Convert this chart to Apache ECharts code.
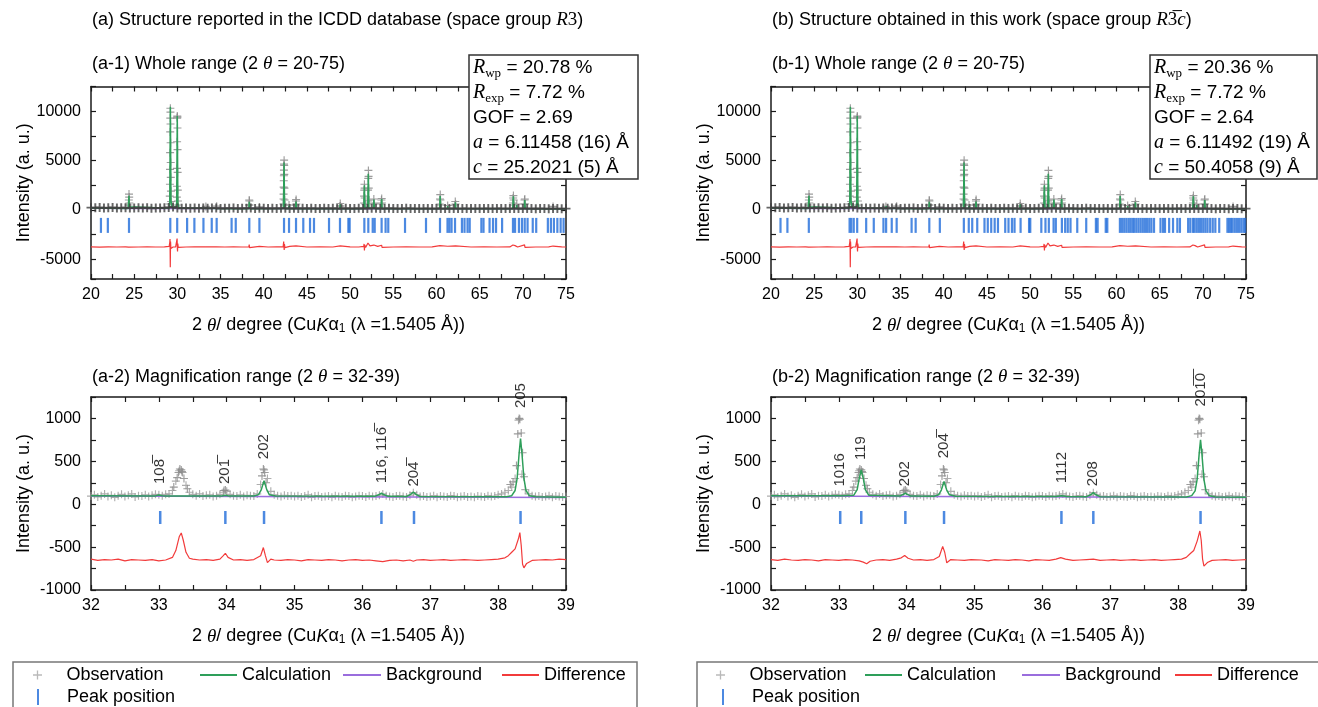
<!DOCTYPE html>
<html>
<head>
<meta charset="utf-8">
<title>Rietveld refinement</title>
<script src="https://cdn.jsdelivr.net/npm/echarts@6/dist/echarts.min.js"></script>
<style>
  html, body { margin: 0; padding: 0; background: #fff; }
  #chart { width: 1318px; height: 707px; }
</style>
</head>
<body>
<div id="chart"></div>
<script>
// ---- whole range (2θ = 20-75) ----
// observed baseline, one point every 0.5 deg from 20
const obsWholeStart = 20;
const obsWholeStep = 0.5;
const obsWholeBase = [
  230, 210, 250, 200, 220, 240, 190, 210, 230, 200,
  180, 210, 190, 220, 170, 200, 190, 210, 250, 300,
  190, 170, 200, 160, 180, 170, 190, 160, 180, 200,
  150, 170, 160, 180, 150, 170, 160, 180, 150, 170,
  160, 150, 170, 140, 160, 170, 150, 160, 140, 170,
  150, 160, 140, 150, 170, 140, 160, 150, 140, 160,
  150, 140, 160, 150, 140, 170, 160, 150, 140, 160,
  140, 150, 130, 160, 140, 150, 130, 150, 140, 130,
  150, 140, 130, 150, 140, 130, 150, 140, 130, 140,
  130, 150, 140, 130, 140, 150, 130, 140, 130, 150,
  140, 130, 140, 120, 140, 130, 120, 140, 130, 120,
  130
];
// observed points on the peaks
const obsWholePeaks = [
  [24.36, 500], [24.38, 1000], [24.40, 1600], [24.42, 1300], [24.44, 700],
  [29.10, 600], [29.12, 1400], [29.14, 2600], [29.15, 4100], [29.16, 5800], [29.17, 7900], [29.18, 9300],
  [29.19, 10300], [29.20, 9900], [29.21, 8700], [29.22, 6800], [29.23, 4800], [29.24, 3300], [29.26, 1900], [29.28, 850],
  [29.92, 500], [29.94, 1300], [29.95, 2400], [29.96, 4200], [29.97, 6900], [29.98, 9300], [29.99, 9500],
  [30.00, 9400], [30.01, 8300], [30.02, 6100], [30.03, 3800], [30.05, 2000], [30.07, 900],
  [33.30, 350], [34.55, 380], [38.30, 500], [38.32, 1000], [38.34, 900], [38.36, 500], [39.50, 300],
  [42.27, 600], [42.29, 1100], [42.30, 1600], [42.31, 2300], [42.32, 2950], [42.33, 3460], [42.34, 4030],
  [42.35, 4640], [42.36, 5040], [42.37, 4500], [42.38, 3600], [42.40, 2200], [42.42, 1000], [42.45, 500],
  [42.93, 500], [43.70, 500], [43.73, 900], [43.75, 1050], [43.78, 600],
  [48.83, 400], [48.86, 650], [48.89, 400],
  [51.60, 700], [51.62, 1400], [51.64, 2000], [51.66, 2600], [51.68, 2200], [51.70, 1200], [51.73, 600],
  [52.06, 900], [52.08, 2000], [52.10, 3200], [52.12, 4000], [52.14, 3400], [52.16, 2200], [52.19, 1000],
  [52.72, 600], [52.75, 1100], [52.78, 700], [53.60, 600], [53.63, 1000], [53.66, 1150], [53.69, 700],
  [60.38, 600], [60.41, 1100], [60.44, 1550], [60.47, 1000], [60.50, 500], [61.30, 450],
  [62.15, 500], [62.18, 850], [62.22, 600],
  [68.85, 700], [68.88, 1200], [68.91, 1450], [68.94, 1000], [68.97, 500], [69.30, 600],
  [70.17, 600], [70.20, 1000], [70.23, 1100], [70.26, 600], [73.50, 350]
];
const calcWholeA = [
  [20, 180], [24.30, 150], [24.36, 320], [24.40, 1420], [24.44, 320], [24.50, 150],
  [29.05, 160], [29.12, 900], [29.19, 10450], [29.26, 900], [29.40, 260], [29.60, 220], [29.85, 300],
  [29.92, 700], [29.99, 9500], [30.06, 700], [30.20, 180],
  [34.48, 130], [34.55, 300], [34.62, 130], [36.22, 125], [36.28, 200], [36.34, 125],
  [36.70, 125], [36.76, 210], [36.82, 125], [38.27, 125], [38.33, 820], [38.39, 125],
  [39.45, 120], [39.50, 260], [39.55, 120], [42.28, 130], [42.35, 4800], [42.42, 130],
  [42.88, 120], [42.93, 420], [42.98, 120], [43.68, 120], [43.74, 850], [43.80, 120],
  [48.80, 115], [48.86, 560], [48.92, 115],
  [51.58, 120], [51.65, 2500], [51.72, 250], [52.04, 250], [52.11, 3650], [52.18, 200],
  [52.68, 150], [52.75, 1050], [52.82, 150], [53.58, 120], [53.65, 1100], [53.72, 120],
  [60.36, 110], [60.43, 1400], [60.50, 110], [61.25, 110], [61.30, 380], [61.35, 110],
  [62.13, 110], [62.19, 780], [62.25, 110],
  [68.83, 110], [68.90, 1380], [68.97, 200], [69.25, 160], [69.30, 480], [69.35, 120],
  [70.15, 110], [70.22, 1000], [70.29, 110], [73.45, 100], [73.50, 300], [73.55, 100], [75, 100]
];
// the R-3c model also has the 119 reflection near 33.3
const calcWholeBExtra = [[33.27, 130], [33.33, 380], [33.39, 130]];
const bgWhole = [[20, 170], [25, 150], [30, 140], [40, 130], [50, 125], [60, 120], [75, 115]];
const diffWhole = [
  [20, -3750], [21, -3770], [22, -3740], [23, -3760], [24, -3750], [24.36, -3780], [24.40, -3600], [24.44, -3820], [24.5, -3750],
  [25.5, -3760], [26.5, -3740], [27.5, -3760], [28.5, -3750], [29.05, -3700], [29.12, -3300], [29.15, -2950], [29.18, -5800],
  [29.21, -3200], [29.25, -3900], [29.32, -3700], [29.5, -3760], [29.8, -3740],
  [29.94, -3600], [29.97, -2900], [30.00, -3950], [30.02, -4200], [30.05, -3400], [30.1, -3800], [30.3, -3750],
  [31, -3760], [32, -3740], [33.25, -3750], [33.3, -3550], [33.36, -3760], [34.5, -3740], [34.55, -3560], [34.6, -3800], [34.7, -3750],
  [35.5, -3760], [36.5, -3740], [37.5, -3760], [38.28, -3750], [38.32, -3520], [38.36, -3820], [38.45, -3750],
  [39.5, -3700], [40.5, -3760], [41.5, -3740], [42.25, -3750], [42.31, -3200], [42.35, -3100], [42.37, -4050], [42.40, -3450],
  [42.45, -3820], [42.55, -3750], [43.0, -3700], [43.74, -3650], [43.8, -3770], [45, -3760], [46.5, -3740], [48, -3760],
  [48.86, -3650], [48.9, -3770], [50, -3750], [51, -3760],
  [51.58, -3700], [51.62, -3450], [51.66, -4100], [51.70, -3550], [51.8, -3800], [52.0, -3700], [52.07, -3350], [52.12, -3300],
  [52.16, -3500], [52.22, -3380], [52.3, -3650], [52.5, -3720], [52.75, -3560], [52.8, -3760], [53.2, -3700], [53.65, -3580],
  [53.7, -3800], [53.8, -3750], [55, -3760], [56.5, -3740], [58, -3760], [59.5, -3750], [60.4, -3620], [60.45, -3820],
  [60.55, -3740], [61.3, -3680], [61.4, -3760], [62.2, -3640], [62.25, -3790], [62.4, -3750],
  [64, -3760], [65.5, -3740], [67, -3760], [68.5, -3750], [68.85, -3560], [68.9, -3520], [68.95, -3680], [69.1, -3620],
  [69.3, -3650], [69.4, -3760], [70.2, -3540], [70.25, -3800], [70.35, -3750],
  [71.5, -3760], [73, -3740], [73.5, -3660], [73.55, -3770], [74.5, -3750], [75, -3760]
];
// reflection positions (2θ)
const peaksR3 = [
  21.15, 21.95, 24.40, 29.18, 29.98, 31.13, 31.97, 33.02, 33.98, 34.55, 36.28, 36.76, 38.33, 39.50,
  42.35, 42.93, 43.74, 44.58, 45.36, 45.82, 47.56, 48.83, 49.80, 49.95, 51.65, 52.11, 52.62, 52.85,
  53.65, 54.11, 54.42, 56.36, 58.79, 60.41, 61.28, 61.50, 61.75, 62.15, 62.95, 63.25, 63.60, 63.85,
  65.20, 65.45, 66.15, 66.55, 66.90, 67.60, 68.86, 69.10, 69.55, 69.90, 70.22, 70.55, 71.15, 71.55,
  72.90, 73.25, 73.60, 74.00, 74.38, 74.72
];
const peaksR3c = [
  21.10, 21.90, 24.38, 29.10, 29.30, 29.58, 29.98, 31.02, 31.90, 33.02, 33.33, 33.98, 34.55, 36.28,
  36.75, 38.33, 39.55, 42.33, 42.90, 43.30, 43.88, 44.72, 45.10, 45.50, 45.90, 46.28, 47.12, 47.50,
  47.90, 48.20, 48.90, 49.88, 50.02, 51.30, 51.78, 52.17, 52.72, 52.98, 53.68, 54.06, 54.36, 54.68,
  55.46, 56.50, 57.62, 57.82, 58.76, 58.94, 60.40, 60.65, 60.90, 61.15, 61.40, 61.62, 61.85, 62.05,
  62.30, 62.55, 62.80, 63.05, 63.30, 63.55, 63.80, 64.05, 64.35, 65.10, 65.40, 65.62, 66.10, 66.55,
  67.05, 67.35, 68.30, 68.55, 68.85, 69.05, 69.30, 69.55, 69.80, 70.05, 70.30, 70.55, 70.85, 71.15,
  71.45, 71.90, 72.85, 73.05, 73.25, 73.45, 73.70, 73.95, 74.20, 74.45, 74.70, 74.90
];

// ---- magnification range (2θ = 32-39) ----
const obsMagStart = 32;
const obsMagStep = 0.05;
const obsMagBase = [
  95, 110, 85, 100, 120, 90, 105, 80, 100, 115,
  90, 105, 120, 85, 100, 95, 110, 90, 105, 115,
  110, 100, 115, 120, 160, 270, 390, 370, 220, 140,
  115, 100, 120, 95, 105, 110, 90, 100, 115, 140,
  150, 115, 100, 95, 110, 90, 105, 100, 95, 120,
  230, 400, 300, 150, 110, 100, 90, 105, 95, 100,
  90, 100, 85, 95, 110, 80, 95, 100, 85, 90,
  95, 80, 100, 90, 85, 100, 95, 80, 90, 100,
  95, 85, 100, 90, 95, 105, 120, 100, 90, 85,
  95, 100, 90, 85, 105, 135, 110, 90, 95, 85,
  90, 100, 80, 95, 90, 85, 100, 95, 80, 90,
  95, 85, 90, 80, 95, 90, 85, 100, 90, 95,
  110, 120, 140, 160, 200, 300, 980, 350, 170, 120,
  100, 90, 95, 85, 90, 100, 80, 95, 90, 85,
  90
];
const obsMagPeaks = [
  [33.22, 200], [33.27, 310], [33.29, 370], [33.31, 410], [33.33, 400], [33.34, 380], [33.37, 300], [33.42, 180],
  [33.96, 160], [33.98, 165], [34.52, 330], [34.54, 410], [34.56, 370], [34.58, 250],
  [38.18, 230], [38.22, 260], [38.27, 450], [38.29, 820], [38.31, 1000], [38.32, 990], [38.34, 830],
  [38.36, 600], [38.38, 320]
];
const calcMagA = [
  [32, 98], [32.95, 97], [33.0, 108], [33.02, 114], [33.05, 100], [33.1, 96], [33.93, 95], [33.98, 104], [34.03, 95],
  [34.40, 96], [34.47, 112], [34.51, 170], [34.55, 275], [34.59, 170], [34.63, 110], [34.72, 95],
  [36.18, 92], [36.24, 110], [36.28, 128], [36.32, 110], [36.38, 92],
  [36.65, 90], [36.71, 115], [36.75, 140], [36.79, 115], [36.85, 90],
  [38.12, 86], [38.20, 100], [38.25, 160], [38.28, 300], [38.31, 600], [38.33, 766], [38.35, 600],
  [38.38, 300], [38.41, 160], [38.46, 100], [38.55, 86], [39, 82]
];
const calcMagB = [
  [32, 98], [33.0, 100], [33.02, 104], [33.05, 99], [33.22, 105], [33.27, 170], [33.30, 300], [33.33, 400],
  [33.36, 300], [33.39, 170], [33.44, 105], [33.90, 96], [33.95, 115], [33.98, 128], [34.01, 115], [34.06, 95],
  [34.40, 94], [34.47, 110], [34.51, 165], [34.55, 265], [34.59, 165], [34.63, 110], [34.72, 93],
  [36.20, 90], [36.28, 100], [36.36, 90], [36.65, 88], [36.71, 110], [36.75, 135], [36.79, 110], [36.85, 88],
  [38.12, 85], [38.20, 100], [38.25, 155], [38.28, 290], [38.31, 590], [38.33, 750], [38.35, 590],
  [38.38, 290], [38.41, 155], [38.46, 100], [38.55, 85], [39, 82]
];
const bgMag = [[32, 97], [39, 78]];
const diffMagA = [
  [32.0, -640], [32.1, -655], [32.2, -645], [32.3, -650], [32.4, -640], [32.5, -660], [32.6, -645], [32.7, -650],
  [32.8, -655], [32.9, -645], [33.0, -660], [33.1, -650], [33.2, -620], [33.25, -540], [33.3, -380], [33.33, -335],
  [33.36, -420], [33.4, -560], [33.45, -630], [33.5, -640], [33.6, -650], [33.7, -645], [33.8, -655], [33.9, -640],
  [33.95, -600], [33.98, -572], [34.02, -620], [34.1, -650], [34.2, -645], [34.3, -655], [34.4, -645], [34.5, -600],
  [34.54, -505], [34.57, -600], [34.6, -680], [34.65, -640], [34.7, -650], [34.8, -655], [34.9, -645], [35.0, -650],
  [35.1, -660], [35.2, -645], [35.3, -650], [35.4, -655], [35.5, -645], [35.6, -650], [35.7, -660], [35.8, -650],
  [35.9, -645], [36.0, -655], [36.1, -650], [36.2, -660], [36.3, -670], [36.4, -655], [36.5, -650], [36.6, -660],
  [36.7, -650], [36.75, -665], [36.8, -650], [36.9, -645], [37.0, -655], [37.1, -650], [37.2, -645], [37.3, -655],
  [37.4, -650], [37.5, -645], [37.6, -650], [37.7, -655], [37.8, -650], [37.9, -645], [38.0, -640], [38.1, -625],
  [38.15, -600], [38.2, -560], [38.25, -520], [38.3, -400], [38.32, -330], [38.34, -480], [38.36, -700], [38.38, -742],
  [38.42, -690], [38.5, -655], [38.6, -650], [38.7, -645], [38.8, -650], [38.9, -640], [39.0, -645]
];
const diffMagB = [
  [32.0, -645], [32.1, -655], [32.2, -640], [32.3, -650], [32.4, -655], [32.5, -645], [32.6, -650], [32.7, -660],
  [32.8, -645], [32.9, -650], [33.0, -655], [33.1, -645], [33.2, -650], [33.3, -660], [33.36, -675], [33.41, -695],
  [33.46, -665], [33.55, -650], [33.65, -645], [33.75, -655], [33.85, -640], [33.92, -625], [33.97, -598], [34.02, -630],
  [34.1, -650], [34.2, -645], [34.3, -655], [34.4, -645], [34.48, -610], [34.53, -492], [34.56, -560], [34.59, -683],
  [34.65, -645], [34.75, -650], [34.85, -655], [34.95, -645], [35.1, -650], [35.2, -660], [35.3, -645], [35.4, -650],
  [35.5, -655], [35.6, -645], [35.7, -650], [35.8, -660], [35.9, -645], [36.0, -650], [36.1, -655], [36.2, -640],
  [36.27, -622], [36.34, -640], [36.45, -655], [36.55, -650], [36.65, -645], [36.75, -640], [36.85, -655], [36.95, -650],
  [37.05, -645], [37.15, -655], [37.25, -650], [37.35, -645], [37.45, -655], [37.55, -650], [37.65, -645], [37.75, -655],
  [37.85, -650], [37.95, -645], [38.05, -640], [38.12, -620], [38.18, -575], [38.23, -540], [38.28, -430], [38.32, -312],
  [38.34, -420], [38.36, -640], [38.38, -722], [38.43, -680], [38.5, -655], [38.6, -650], [38.7, -645], [38.8, -655],
  [38.9, -650], [39.0, -645]
];
// hkl labels (U+0305 = overbar) and the height where each label starts
const hklA = ['108\u0305', '201\u0305', '202', '116, 116\u0305', '204\u0305', '205'];
const hklPosA = [33.02, 33.98, 34.55, 36.28, 36.76, 38.33];
const hklLabelYA = [235, 235, 525, 245, 205, 1120];
const hklB = ['1016', '119', '202', '204\u0305', '1112', '208', '201\u03050\u0305'];
const hklPosB = [33.02, 33.33, 33.98, 34.55, 36.28, 36.75, 38.33];
const hklLabelYB = [205, 515, 210, 535, 245, 210, 1140];

const statsA = ['20.78 %', '7.72 %', '2.69', '6.11458 (16) Å', '25.2021 (5) Å'];
const statsB = ['20.36 %', '7.72 %', '2.64', '6.11492 (19) Å', '50.4058 (9) Å'];

// ---- styles ----
const SANS = "'Liberation Sans', Arial, Helvetica, sans-serif";
const SERIF = "'Liberation Serif', 'Times New Roman', serif";
const PLUS = 'path://M6,0H8V6H14V8H8V14H6V8H0V6H6Z';
const PLUS_BOLD = 'path://M5.5,0H8.5V5.5H14V8.5H8.5V14H5.5V8.5H0V5.5H5.5Z';
const BAR = 'path://M0,0H2V16H0Z';
const LINE_ICON = 'path://M0,0H40V2H0Z';
const C_OBS = '#8c8c8c', C_CALC = '#2e9f5a', C_BG = '#9a6ddd', C_DIFF = '#f23b3b', C_TICK = '#1f6bd9';
const AXIS_COLOR = '#1a1a1a';

const richBase = {
  n: { fontFamily: SANS, fontSize: 18, color: '#000' },
  i: { fontFamily: SERIF, fontSize: 19, fontStyle: 'italic', color: '#000' },
  r: { fontFamily: SERIF, fontSize: 19, color: '#000' },
  k: { fontFamily: SANS, fontSize: 18, fontStyle: 'italic', color: '#000' },
  s: { fontFamily: SANS, fontSize: 12, color: '#000', lineHeight: 12, verticalAlign: 'bottom' }
};
const xName = '{n|2 }{i|θ}{n|/ degree (Cu}{k|K}{n|α}{s|1}{n| (λ =1.5405 Å))}';

const myChart = echarts.init(document.getElementById('chart'));

const grids = [
  { left: 91, top: 86.5, width: 475, height: 192.5 },
  { left: 771, top: 86.5, width: 475, height: 192.5 },
  { left: 91, top: 397, width: 475, height: 193 },
  { left: 771, top: 397, width: 475, height: 193 }
];

function xAxes(gi, min, max, interval) {
  const common = {
    type: 'value', gridIndex: gi, min: min, max: max, interval: interval,
    axisLine: { onZero: false, lineStyle: { color: AXIS_COLOR, width: 1.5 } },
    axisTick: { inside: true, length: 5, lineStyle: { color: AXIS_COLOR, width: 1.2 } },
    minorTick: { show: true, splitNumber: 2, length: 5, lineStyle: { color: AXIS_COLOR, width: 1.2 } },
    splitLine: { show: false }
  };
  return [
    Object.assign({}, common, {
      position: 'bottom',
      name: xName, nameLocation: 'middle', nameGap: 37,
      nameTextStyle: { fontFamily: SANS, fontSize: 18, color: '#000', rich: richBase },
      axisLabel: { margin: 8, fontFamily: SANS, fontSize: 16, color: '#000', formatter: v => String(v) }
    }),
    Object.assign({}, common, { position: 'top', axisLabel: { show: false } })
  ];
}

function yAxes(gi, min, max, extra, showMin) {
  const common = Object.assign({
    type: 'value', gridIndex: gi, min: min, max: max,
    axisLine: { onZero: false, lineStyle: { color: AXIS_COLOR, width: 1.5 } },
    axisTick: { inside: true, length: 5, lineStyle: { color: AXIS_COLOR, width: 1.2 } },
    minorTick: { show: true, splitNumber: 2, length: 5, lineStyle: { color: AXIS_COLOR, width: 1.2 } },
    splitLine: { show: false }
  }, extra);
  return [
    Object.assign({}, common, {
      position: 'left',
      name: 'Intensity (a. u.)', nameLocation: 'middle', nameGap: 58,
      nameTextStyle: { fontFamily: SANS, fontSize: 18, color: '#000' },
      axisLabel: { margin: 10, fontFamily: SANS, fontSize: 16, color: '#000',
        showMinLabel: showMin, showMaxLabel: false, formatter: v => String(v) }
    }),
    Object.assign({}, common, { position: 'right', axisLabel: { show: false } })
  ];
}

const xAxis = [].concat(
  xAxes(0, 20, 75, 5), xAxes(1, 20, 75, 5), xAxes(2, 32, 39, 1), xAxes(3, 32, 39, 1)
);
const yAxis = [].concat(
  yAxes(0, -7000, 12500, { splitNumber: 4 }, false), yAxes(1, -7000, 12500, { splitNumber: 4 }, false),
  yAxes(2, -1000, 1250, { interval: 500 }, true), yAxes(3, -1000, 1250, { interval: 500 }, true)
);

const byX = (a, b) => a[0] - b[0];

function panelSeries(gi, p) {
  const ax = { xAxisIndex: gi * 2, yAxisIndex: gi * 2 };
  const baseData = p.obsBase.map((v, i) => [p.obsStart + i * p.obsStep, v]);
  const list = [
    Object.assign({ name: 'Observation', type: 'scatter', symbol: p.baseSymbol, symbolSize: p.baseSize,
      data: baseData, color: p.baseColor, itemStyle: { color: p.baseColor }, z: p.baseZ }, ax),
    Object.assign({ name: 'Observation', type: 'scatter', symbol: PLUS, symbolSize: 8,
      data: p.obsPeaks, color: C_OBS, itemStyle: { color: C_OBS, opacity: 0.85 }, z: 2 }, ax),
    Object.assign({ name: 'Background', type: 'line', symbol: 'none', data: p.bg, color: C_BG,
      lineStyle: { width: 1.5, color: C_BG }, z: 3 }, ax),
    Object.assign({ name: 'Calculation', type: 'line', symbol: 'none', data: p.calc, color: C_CALC,
      lineStyle: { width: 1.5, color: C_CALC }, z: 4 }, ax),
    Object.assign({ name: 'Difference', type: 'line', symbol: 'none', data: p.diff, color: C_DIFF,
      lineStyle: { width: 1.2, color: C_DIFF }, z: 4 }, ax),
    Object.assign({ name: 'Peak position', type: 'scatter', symbol: 'rect', symbolSize: p.tickSize,
      data: p.ticks.map(x => [x, p.tickY]), color: C_TICK, itemStyle: { color: C_TICK }, z: 5 }, ax)
  ];
  if (p.hkl) {
    list.push(Object.assign({
      name: 'hkl', type: 'scatter', symbolSize: 0.1, itemStyle: { color: 'rgba(0,0,0,0)' }, z: 6,
      data: p.hklPos.map((x, i) => [x, p.hklY[i]]),
      label: {
        show: true, position: [0, 0], rotate: 90, align: 'left', verticalAlign: 'middle',
        fontFamily: SANS, fontSize: 15, color: '#000',
        formatter: q => p.hkl[q.dataIndex]
      }
    }, ax));
  }
  return list;
}

const inMag = x => x >= 32 && x <= 39;
const series = [].concat(
  panelSeries(0, { obsBase: obsWholeBase, obsStart: obsWholeStart, obsStep: obsWholeStep,
    baseColor: '#404040', baseSize: 9, baseZ: 5, baseSymbol: PLUS_BOLD,
    obsPeaks: obsWholePeaks, bg: bgWhole, calc: calcWholeA, diff: diffWhole,
    ticks: peaksR3, tickY: -1570, tickSize: [2.2, 15] }),
  panelSeries(1, { obsBase: obsWholeBase, obsStart: obsWholeStart, obsStep: obsWholeStep,
    baseColor: '#404040', baseSize: 9, baseZ: 5, baseSymbol: PLUS_BOLD,
    obsPeaks: obsWholePeaks, bg: bgWhole, calc: calcWholeA.concat(calcWholeBExtra).sort(byX), diff: diffWhole,
    ticks: peaksR3c, tickY: -1570, tickSize: [2.2, 15] }),
  panelSeries(2, { obsBase: obsMagBase, obsStart: obsMagStart, obsStep: obsMagStep,
    baseColor: '#9a9a9a', baseSize: 8, baseZ: 2, baseSymbol: PLUS,
    obsPeaks: obsMagPeaks, bg: bgMag, calc: calcMagA, diff: diffMagA,
    ticks: peaksR3.filter(inMag), tickY: -155, tickSize: [2.5, 13],
    hkl: hklA, hklPos: hklPosA, hklY: hklLabelYA }),
  panelSeries(3, { obsBase: obsMagBase, obsStart: obsMagStart, obsStep: obsMagStep,
    baseColor: '#9a9a9a', baseSize: 8, baseZ: 2, baseSymbol: PLUS,
    obsPeaks: obsMagPeaks, bg: bgMag, calc: calcMagB, diff: diffMagB,
    ticks: peaksR3c.filter(inMag), tickY: -155, tickSize: [2.5, 13],
    hkl: hklB, hklPos: hklPosB, hklY: hklLabelYB })
);

function title(text, left, top) {
  return { text: text, left: left, top: top, padding: 0,
    textStyle: { fontFamily: SANS, fontSize: 18, fontWeight: 'normal', color: '#000', lineHeight: 22, rich: richBase } };
}

// legend: one component per entry so every item sits where it is in the figure
function legendItem(name, left, top, width, height, extra) {
  return {
    left: left, top: top, padding: 0, itemGap: 0, itemWidth: width, itemHeight: height,
    selectedMode: false,
    textStyle: { fontFamily: SANS, fontSize: 18, color: '#000' },
    data: [Object.assign({ name: name }, extra)]
  };
}
function legendSet(obsX, calcX, bgX, diffX, peakX) {
  return [
    legendItem('Observation', obsX, 666, 48, 9, { icon: PLUS, itemStyle: { color: '#a8a8a8' } }),
    legendItem('Calculation', calcX, 666, 37, 14, { icon: LINE_ICON, itemStyle: { color: C_CALC } }),
    legendItem('Background', bgX, 666, 38, 14, { icon: LINE_ICON, itemStyle: { color: C_BG } }),
    legendItem('Difference', diffX, 666, 37, 14, { icon: LINE_ICON, itemStyle: { color: C_DIFF } }),
    legendItem('Peak position', peakX, 688, 48, 16, { icon: BAR, itemStyle: { color: C_TICK } })
  ];
}

function statsText(v) {
  return [
    '{i|R}{s|wp}{n| = ' + v[0] + '}',
    '{i|R}{s|exp}{n| = ' + v[1] + '}',
    '{n|GOF = ' + v[2] + '}',
    '{i|a}{n| = ' + v[3] + '}',
    '{i|c}{n| = ' + v[4] + '}'
  ].join('\n');
}
const statsRich = {
  n: { fontFamily: SANS, fontSize: 19, color: '#000', lineHeight: 25 },
  i: { fontFamily: SERIF, fontSize: 20, fontStyle: 'italic', color: '#000', lineHeight: 25 },
  s: { fontFamily: SERIF, fontSize: 13, color: '#000', lineHeight: 14, verticalAlign: 'bottom' }
};
function statsBox(x, w, v) {
  return [
    { type: 'rect', z: 100, shape: { x: x, y: 55, width: w, height: 124 },
      style: { fill: '#fff', stroke: '#333', lineWidth: 1.5 } },
    { type: 'text', z: 101, x: x + 4, y: 55,
      style: { text: statsText(v), rich: statsRich, verticalAlign: 'top', fill: '#000' } }
  ];
}

const option = {
  animation: false,
  backgroundColor: '#fff',
  title: [
    title('{n|(a) Structure reported in the ICDD database (space group }{i|R}{r|3}{n|)}', 92, 9),
    title('{n|(b) Structure obtained in this work (space group }{i|R}{r|3\u0305}{i|c}{n|)}', 772, 9),
    title('{n|(a-1) Whole range (2 }{i|θ}{n| = 20-75)}', 92, 53),
    title('{n|(b-1) Whole range (2 }{i|θ}{n| = 20-75)}', 772, 53),
    title('{n|(a-2) Magnification range (2 }{i|θ}{n| = 32-39)}', 92, 366),
    title('{n|(b-2) Magnification range (2 }{i|θ}{n| = 32-39)}', 772, 366)
  ],
  legend: [].concat(legendSet(33, 200, 343, 502, 37), legendSet(716, 865, 1022, 1175, 722)),
  grid: grids.map(g => Object.assign({ containLabel: false, outerBoundsMode: 'none' }, g)),
  xAxis: xAxis,
  yAxis: yAxis,
  series: series,
  graphic: [].concat(
    statsBox(469, 169, statsA),
    statsBox(1150, 167, statsB),
    [
      { type: 'rect', z: 90, shape: { x: 13, y: 662, width: 624, height: 60 },
        style: { fill: 'none', stroke: '#777', lineWidth: 1.5 } },
      { type: 'rect', z: 90, shape: { x: 697, y: 662, width: 640, height: 60 },
        style: { fill: 'none', stroke: '#777', lineWidth: 1.5 } }
    ]
  )
};
myChart.setOption(option);
window.addEventListener('resize', function () {
  myChart.resize();
});
</script>
</body>
</html>
